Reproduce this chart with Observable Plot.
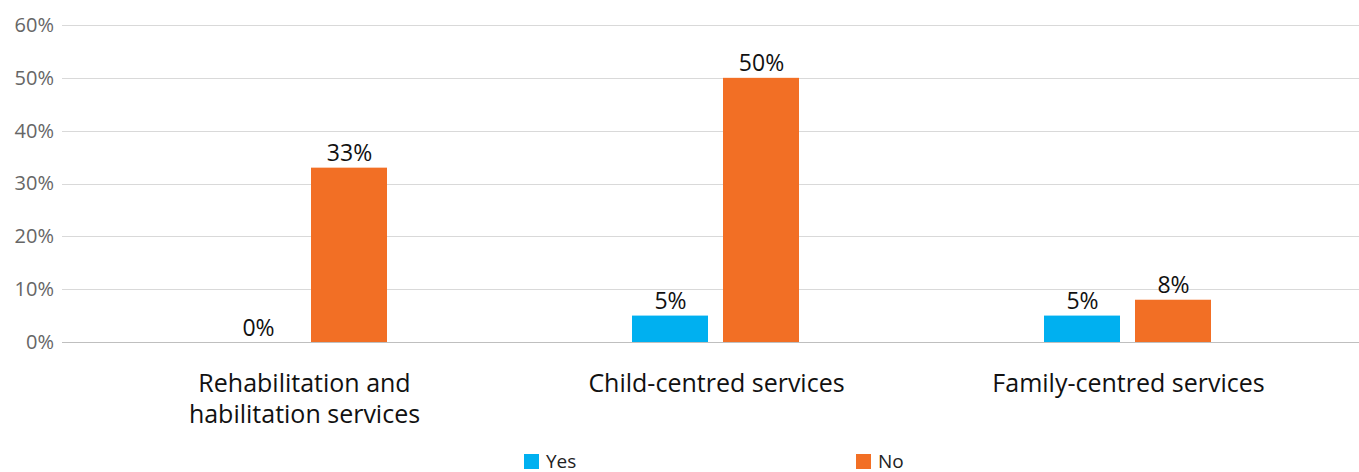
<!DOCTYPE html>
<html>
<head>
<meta charset="utf-8">
<script src="https://cdn.jsdelivr.net/npm/d3@7"></script>
<script src="https://cdn.jsdelivr.net/npm/@observablehq/plot@0.6"></script>
<style>
  html, body { margin: 0; padding: 0; background: #fff; }
  body { width: 1359px; height: 472px; overflow: hidden; position: relative; font-family: "Open Sans", sans-serif; }
  #legend { position: absolute; left: 0; top: 451px; width: 1359px; height: 20px; font-size: 19px; line-height: 1; color: #222; }
  .item { position: absolute; top: 0; height: 20px; display: flex; align-items: center; gap: 7px; }
  .sw { width: 15px; height: 15px; display: inline-block; }
</style>
</head>
<body>
<div id="chart"></div>
<div id="legend"></div>
<script>
const categories = ["Rehabilitation and habilitation services", "Child-centred services", "Family-centred services"];
const categoryLabels = ["Rehabilitation and\nhabilitation services", "Child-centred services", "Family-centred services"];
const seriesNames = ["Yes", "No"];
const yesValues = [0, 0.05, 0.05];
const noValues = [0.33, 0.50, 0.08];
const yTicks = [0, 0.1, 0.2, 0.3, 0.4, 0.5, 0.6];
const colors = ["#00B0F0", "#F26F25"];

const rows = [];
categories.forEach((c, i) => {
  rows.push({category: c, series: "Yes", value: yesValues[i]});
  rows.push({category: c, series: "No", value: noValues[i]});
});
const labelOf = new Map(categories.map((c, i) => [c, categoryLabels[i]]));
const pct = d3.format(".0%");
const font = "'Open Sans', sans-serif";

const chart = Plot.plot({
  width: 1359,
  height: 440,
  marginLeft: 62,
  marginRight: 0,
  marginTop: 25,
  marginBottom: 98,
  style: {fontFamily: font, background: "#fff"},
  fx: {domain: categories, paddingInner: 0, paddingOuter: 0.074, align: 0.582, label: null},
  x: {domain: seriesNames, paddingInner: 0.1648, paddingOuter: 1.346, axis: null},
  y: {domain: [0, 0.6], axis: null},
  color: {domain: seriesNames, range: colors},
  marks: [
    Plot.gridY(yTicks, {stroke: "#d9d9d9", strokeOpacity: 1, strokeWidth: 1, shapeRendering: "crispEdges", insetLeft: -36, insetRight: -26}),
    Plot.ruleY([0], {stroke: "#bfbfbf", strokeWidth: 1, shapeRendering: "crispEdges", insetLeft: -36, insetRight: -26}),
    Plot.axisY({ticks: yTicks, tickFormat: pct, tickSize: 0, tickPadding: 9, dx: -35.5, fontSize: 20, fill: "#666", label: null}),
    Plot.barY(rows, {fx: "category", x: "series", y: "value", fill: "series"}),
    Plot.text(rows, {fx: "category", x: "series", y: "value", text: d => pct(d.value), dy: -7, lineAnchor: "bottom", fontSize: 23, fill: "#111"}),
    Plot.axisFx({anchor: "bottom", tickSize: 0, tickPadding: 27, lineAnchor: "top", lineHeight: 1.25, fontSize: 25, fill: "#111", tickFormat: c => labelOf.get(c), label: null})
  ]
});
document.getElementById("chart").appendChild(chart);

const legend = document.getElementById("legend");
const legendLeft = [524, 856];
seriesNames.forEach((s, i) => {
  const it = document.createElement("div");
  it.className = "item";
  it.style.left = legendLeft[i] + "px";
  const sw = document.createElement("span");
  sw.className = "sw";
  sw.style.background = colors[i];
  const t = document.createElement("span");
  t.textContent = s;
  it.appendChild(sw);
  it.appendChild(t);
  legend.appendChild(it);
});
</script>
</body>
</html>
